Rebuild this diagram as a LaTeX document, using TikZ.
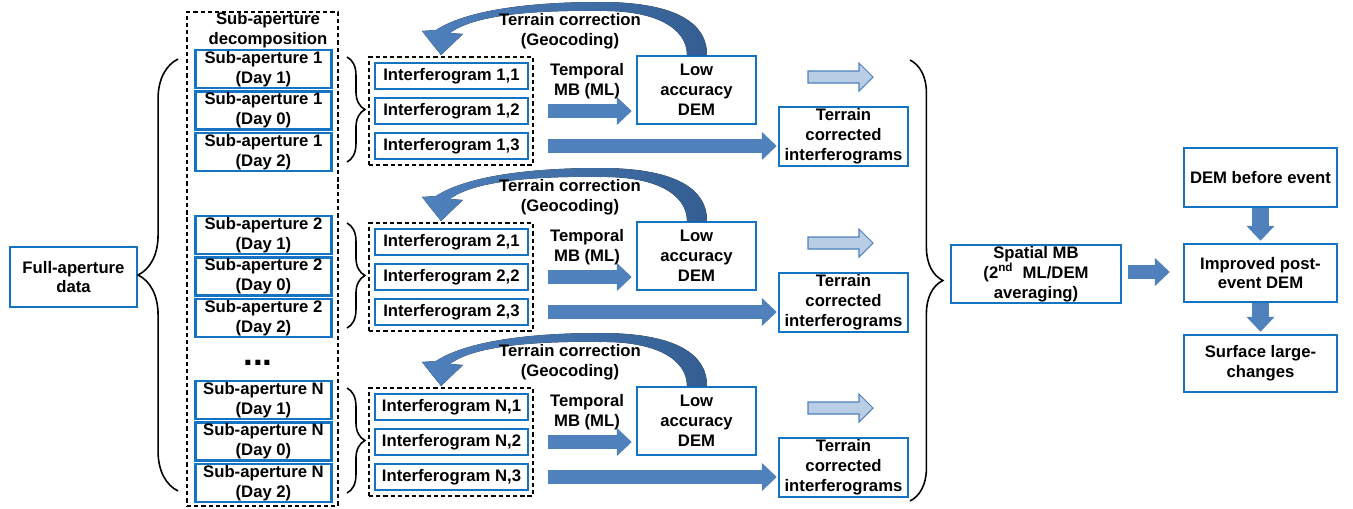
\documentclass[tikz,border=0pt]{standalone}
\usepackage{fontspec}
\setmainfont{Liberation Sans}
\usepackage{tikz}
\usetikzlibrary{arrows.meta, positioning, calc, decorations.pathreplacing}
\definecolor{boxblue}{RGB}{20,115,195}
\definecolor{arrowblue}{RGB}{79,129,189}
\definecolor{arrowdark}{RGB}{52,94,146}
\definecolor{paleblue}{RGB}{185,205,229}

\tikzset{
    every node/.style={font=\fontsize{9.5}{11.3}\selectfont\bfseries, align=center, inner sep=0pt},
    bluebox/.style={draw=boxblue, line width=1.4pt, fill=white},
    dashbox/.style={draw=black, line width=1.1pt, dash pattern=on 2.4pt off 1.7pt},
    blockarrow/.style={draw=arrowblue, line width=8.5pt, -{Triangle[width=15.5pt,length=8.5pt]}},
    palearrow/.style={draw=arrowblue, fill=paleblue, line width=0.6pt},
    bracket/.style={decorate, line width=0.9pt},
}

\begin{document}
\begin{tikzpicture}[x=0.02cm, y=-0.02cm]
    \useasboundingbox (0,0) rectangle (1353,508);

    % Full aperture
    \node[bluebox, minimum width=2.54cm, minimum height=1.2cm] (full) at (73.5,277) {Full-aperture\\data};
    \draw[bracket, decoration={brace, amplitude=22.7pt}] (178,491) -- (178,59);

    % Sub-aperture decomposition
    \node[dashbox, minimum width=3.02cm, minimum height=9.88cm] (subframe) at (262.5,259) {};
    \node (title) at (268,30) {Sub-aperture\\decomposition};
    \node[font=\fontsize{20}{20}\selectfont\bfseries, anchor=base] (dots) at (258,365) {...};

    \foreach \g/\lab/\yo in {1/1/0, 2/2/166, 3/N/331} {
        \begin{scope}[shift={(0,\yo)}]
            % Sub-apertures
            \foreach \k/\day in {1/1, 2/0, 3/2}
                \node[bluebox, minimum width=2.72cm, minimum height=0.76cm] (s\g\k) at (263.5, 27.5+41.5*\k) {Sub-aperture \lab\\(Day \day)};
            \draw[bracket, decoration={brace, amplitude=10.2pt}] (347,57) -- (347,162);

            % Interferograms
            \node[dashbox, minimum width=3.28cm, minimum height=2.16cm] (ig\g) at (451,111) {};
            \foreach \k in {1,2,3}
                \node[bluebox, minimum width=3.06cm, minimum height=0.52cm] (i\g\k) at (451.5, 41+35*\k) {Interferogram \lab,\k};

            % Temporal MB
            \node[bluebox, minimum width=2.38cm, minimum height=1.36cm] (dem\g) at (696.5,90) {Low\\accuracy\\DEM};
            \node[bluebox, minimum width=2.58cm, minimum height=1.18cm] (tc\g) at (843.5,136.5) {Terrain\\corrected\\interferograms};
            \node (tmb\g) at (587,81) {Temporal\\MB (ML)};
            \draw[blockarrow] ($(i\g2.east)+(19,0)$) -- ($(i\g2.east -| dem\g.west)+(-4,0)$);
            \draw[blockarrow] ($(i\g3.east)+(19,0)$) -- ($(i\g3.east -| tc\g.west)+(-1,0)$);

            % Terrain correction
            \fill[left color=arrowblue, right color=arrowdark]
                (687,55) .. controls (687,28) and (655,10) .. (600,11)
                .. controls (540,10) and (475,14) .. (450,33)
                -- (463,34) -- (441,55) -- (422,31) -- (436,30)
                .. controls (470,8) and (540,2) .. (600,2)
                .. controls (670,2) and (707,20) .. (707,55) -- cycle;
            \node (trc\g) at (570,31.5) {Terrain correction\\(Geocoding)};

            % to spatial MB
            \draw[palearrow] (808,71) -- (859,71) -- (859,63) -- (873,77) -- (859,91) -- (859,83) -- (808,83) -- cycle;
        \end{scope}
    }

    % Spatial MB
    \draw[bracket, decoration={brace, amplitude=18.7pt}] (910,60) -- (910,501);
    \node[bluebox, minimum width=3.4cm, minimum height=1.16cm] (smb) at (1036,274) {Spatial MB\\(2\textsuperscript{nd}\ \ ML/DEM\\averaging)};

    % DEM update
    \node[bluebox, minimum width=3.06cm, minimum height=1.18cm] (before) at (1260.5,177.5) {DEM before event};
    \node[bluebox, minimum width=3.06cm, minimum height=1.16cm] (post) at (1260.5,273) {Improved post-\\event DEM};
    \node[bluebox, minimum width=3.06cm, minimum height=1.14cm] (surf) at (1260.5,363.5) {Surface large-\\changes};
    \draw[blockarrow, line width=7.5pt] ($(smb.east)+(6,-2)$) -- ($(smb.east -| post.west)+(-13,-2)$);
    \draw[blockarrow, line width=10pt] (before.south) -- ($(post.north)+(0,-2)$);
    \draw[blockarrow, line width=10pt] (post.south) -- ($(surf.north)+(0,-2)$);
\end{tikzpicture}
\end{document}
